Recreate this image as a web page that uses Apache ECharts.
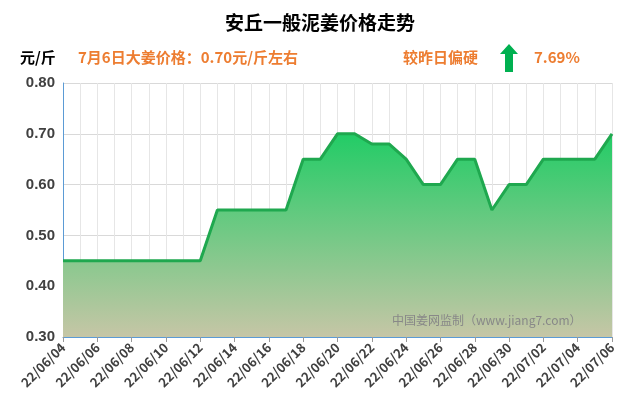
<!DOCTYPE html><html><head><meta charset="utf-8"><script src="https://cdn.jsdelivr.net/npm/echarts@6/dist/echarts.min.js"></script></head><body style="margin:0"><div id="c" style="width:640px;height:410px"></div><script>
const categories=['22/06/04','22/06/05','22/06/06','22/06/07','22/06/08','22/06/09','22/06/10','22/06/11','22/06/12','22/06/13','22/06/14','22/06/15','22/06/16','22/06/17','22/06/18','22/06/19','22/06/20','22/06/21','22/06/22','22/06/23','22/06/24','22/06/25','22/06/26','22/06/27','22/06/28','22/06/29','22/06/30','22/07/01','22/07/02','22/07/03','22/07/04','22/07/05','22/07/06'];
const values=[0.45,0.45,0.45,0.45,0.45,0.45,0.45,0.45,0.45,0.55,0.55,0.55,0.55,0.55,0.65,0.65,0.70,0.70,0.68,0.68,0.65,0.60,0.60,0.65,0.65,0.55,0.60,0.60,0.65,0.65,0.65,0.65,0.70];
const labelAbove=[4,12,16,19,24,27,32];
const labelBelow=[25];
const yTicks=[0.30,0.40,0.50,0.60,0.70,0.80];
const data=values.map((v,i)=>{
  if(labelAbove.includes(i))return {value:v,label:{show:true,position:'top'}};
  if(labelBelow.includes(i))return {value:v,label:{show:true,position:'bottom',distance:10}};
  return v;});
const ch=echarts.init(document.getElementById('c'));
const F='"Microsoft YaHei","Noto Sans CJK SC",sans-serif';
ch.setOption({
 animation:false,
 title:{text:'安丘一般泥姜价格走势',left:'center',top:8,textStyle:{fontSize:19,fontWeight:'bold',color:'#000',fontFamily:F}},
 graphic:[
  {type:'text',left:20,top:50,style:{text:'元/斤',font:'bold 15px '+F,fill:'#000'}},
  {type:'text',left:78,top:50,style:{text:'7月6日大姜价格：0.70元/斤左右',font:'bold 15px '+F,fill:'#ed7d31'}},
  {type:'text',left:403,top:50,style:{text:'较昨日偏硬',font:'bold 15px '+F,fill:'#ed7d31'}},
  {type:'polygon',shape:{points:[[509,44],[518,54],[513,54],[513,72],[505,72],[505,54],[500,54]]},style:{fill:'#00b050'}},
  {type:'text',left:534,top:50,style:{text:'7.69%',font:'bold 15px '+F,fill:'#ed7d31'}},
  {type:'text',left:392,top:314,z:100,style:{text:'中国姜网监制（www.jiang7.com）',font:'12px '+F,fill:'#888'}}
 ],
 grid:{left:63,right:28,top:83,bottom:73},
 xAxis:{type:'category',data:categories,boundaryGap:false,
  axisLine:{lineStyle:{color:'#5b9bd5'}},axisTick:{show:true,interval:1,lineStyle:{color:'#999'}},
  axisLabel:{interval:1,rotate:45,fontSize:13,fontWeight:'bold',color:'#404040',fontFamily:F},
  splitLine:{show:true,interval:0,lineStyle:{color:'#e6e6e6'}}},
 yAxis:{type:'value',min:0.3,max:0.8,interval:0.1,
  axisLine:{show:true,lineStyle:{color:'#5b9bd5'}},
  axisLabel:{fontSize:15,fontWeight:'bold',color:'#404040',formatter:v=>v.toFixed(2)},
  splitLine:{lineStyle:{color:'#d9d9d9'}}},
 series:[{type:'line',data:data,symbol:'circle',symbolSize:1,showSymbol:true,itemStyle:{opacity:0},
  lineStyle:{color:'#1fa84f',width:3},
  label:{fontSize:15,color:'#000',formatter:p=>p.value.toFixed(2)},
  areaStyle:{color:new echarts.graphic.LinearGradient(0,0,0,1,[{offset:0,color:'#22cc66'},{offset:1,color:'#c6c6a6'}]),opacity:1}}]
});
</script></body></html>
